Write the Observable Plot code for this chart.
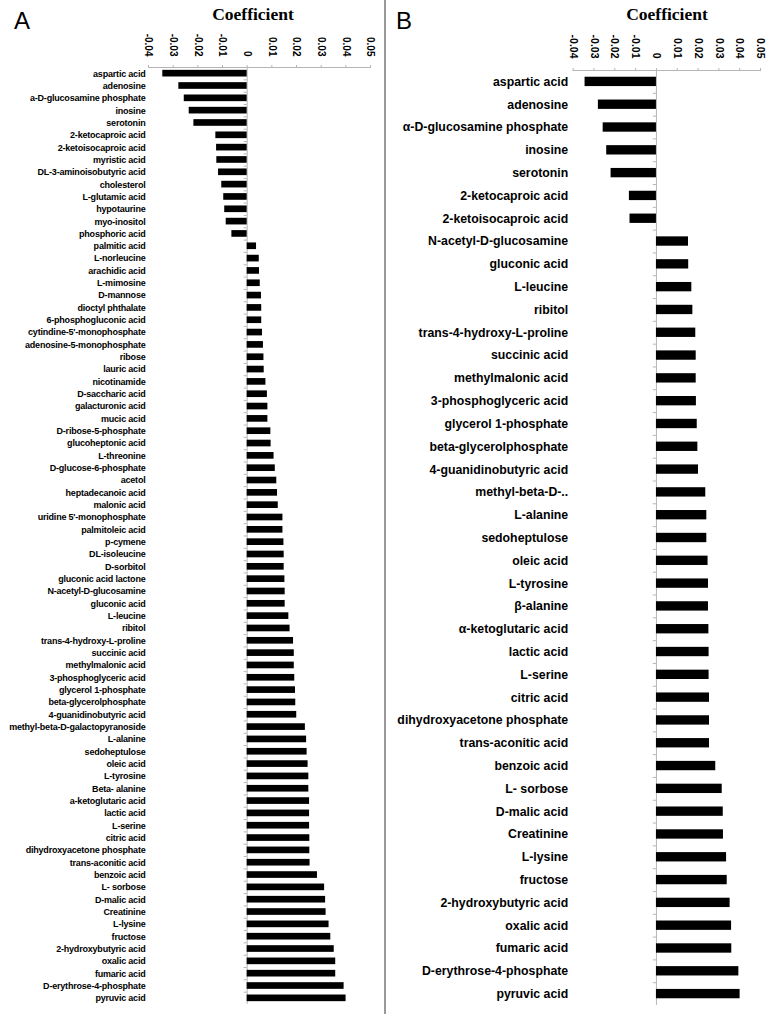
<!DOCTYPE html>
<html>
<head>
<meta charset="utf-8">
<script src="https://cdn.jsdelivr.net/npm/d3@7"></script>
<script src="https://cdn.jsdelivr.net/npm/@observablehq/plot@0.6"></script>
<style>
  html, body { margin: 0; padding: 0; background: #fff; }
  #wrap { position: relative; width: 774px; height: 1014px; overflow: hidden; background: #fff; }
  .panel { position: absolute; top: 0; }
  .letter { position: absolute; font-family: "Liberation Sans", Arial, sans-serif; font-size: 24px; line-height: 1; }
  .ctitle { position: absolute; font-family: "Liberation Serif", "Times New Roman", serif; font-weight: bold; font-size: 17.5px; line-height: 1; transform: translateX(-50%); white-space: nowrap; }
  #divider { position: absolute; left: 384px; top: 0; width: 1.5px; height: 1014px; background: #9a9a9a; }
  #panelA g[aria-label="y-axis tick label"] text { letter-spacing: -0.2px; }
</style>
</head>
<body>
<div id="wrap">
  <div id="panelA" class="panel" style="left:0"></div>
  <div id="panelB" class="panel" style="left:385px"></div>
  <div id="divider"></div>
  <div class="letter" style="left:14px; top:9px">A</div>
  <div class="letter" style="left:396px; top:9px">B</div>
  <div class="ctitle" style="left:253px; top:6px">Coefficient</div>
  <div class="ctitle" style="left:667px; top:6px">Coefficient</div>
</div>
<script>
// ---------- Data ----------
const tickValues = [-0.04, -0.03, -0.02, -0.01, 0, 0.01, 0.02, 0.03, 0.04, 0.05];

const categoriesA = [
  "aspartic acid", "adenosine", "a-D-glucosamine phosphate", "inosine", "serotonin",
  "2-ketocaproic acid", "2-ketoisocaproic acid", "myristic acid", "DL-3-aminoisobutyric acid", "cholesterol",
  "L-glutamic acid", "hypotaurine", "myo-inositol", "phosphoric acid", "palmitic acid",
  "L-norleucine", "arachidic acid", "L-mimosine", "D-mannose", "dioctyl phthalate",
  "6-phosphogluconic acid", "cytindine-5'-monophosphate", "adenosine-5-monophosphate", "ribose", "lauric acid",
  "nicotinamide", "D-saccharic acid", "galacturonic acid", "mucic acid", "D-ribose-5-phosphate",
  "glucoheptonic acid", "L-threonine", "D-glucose-6-phosphate", "acetol", "heptadecanoic acid",
  "malonic acid", "uridine 5'-monophosphate", "palmitoleic acid", "p-cymene", "DL-isoleucine",
  "D-sorbitol", "gluconic acid lactone", "N-acetyl-D-glucosamine", "gluconic acid", "L-leucine",
  "ribitol", "trans-4-hydroxy-L-proline", "succinic acid", "methylmalonic acid", "3-phosphoglyceric acid",
  "glycerol 1-phosphate", "beta-glycerolphosphate", "4-guanidinobutyric acid", "methyl-beta-D-galactopyranoside", "L-alanine",
  "sedoheptulose", "oleic acid", "L-tyrosine", "Beta- alanine", "a-ketoglutaric acid",
  "lactic acid", "L-serine", "citric acid", "dihydroxyacetone phosphate", "trans-aconitic acid",
  "benzoic acid", "L- sorbose", "D-malic acid", "Creatinine", "L-lysine",
  "fructose", "2-hydroxybutyric acid", "oxalic acid", "fumaric acid", "D-erythrose-4-phosphate",
  "pyruvic acid"
];
const valuesA = [
  -0.0342, -0.0277, -0.0255, -0.0235, -0.0216,
  -0.0127, -0.0124, -0.0123, -0.0116, -0.0103,
  -0.0095, -0.0091, -0.0085, -0.0062, 0.0038,
  0.0049, 0.0050, 0.0053, 0.0058, 0.0059,
  0.0059, 0.0062, 0.0066, 0.0068, 0.0069,
  0.0076, 0.0082, 0.0084, 0.0084, 0.0096,
  0.0097, 0.0109, 0.0114, 0.0120, 0.0123,
  0.0126, 0.0145, 0.0145, 0.0149, 0.0150,
  0.0150, 0.0153, 0.0154, 0.0154, 0.0169,
  0.0174, 0.0188, 0.0191, 0.0191, 0.0193,
  0.0196, 0.0197, 0.0201, 0.0236, 0.0241,
  0.0243, 0.0247, 0.0250, 0.0250, 0.0253,
  0.0253, 0.0253, 0.0254, 0.0254, 0.0255,
  0.0285, 0.0314, 0.0318, 0.0320, 0.0332,
  0.0339, 0.0353, 0.0359, 0.0359, 0.0393,
  0.0401
];

const categoriesB = [
  "aspartic acid", "adenosine", "α-D-glucosamine phosphate", "inosine", "serotonin",
  "2-ketocaproic acid", "2-ketoisocaproic acid", "N-acetyl-D-glucosamine", "gluconic acid", "L-leucine",
  "ribitol", "trans-4-hydroxy-L-proline", "succinic acid", "methylmalonic acid", "3-phosphoglyceric acid",
  "glycerol 1-phosphate", "beta-glycerolphosphate", "4-guanidinobutyric acid", "methyl-beta-D-..", "L-alanine",
  "sedoheptulose", "oleic acid", "L-tyrosine", "β-alanine", "α-ketoglutaric acid",
  "lactic acid", "L-serine", "citric acid", "dihydroxyacetone phosphate", "trans-aconitic acid",
  "benzoic acid", "L- sorbose", "D-malic acid", "Creatinine", "L-lysine",
  "fructose", "2-hydroxybutyric acid", "oxalic acid", "fumaric acid", "D-erythrose-4-phosphate",
  "pyruvic acid"
];
const valuesB = [
  -0.0343, -0.0279, -0.0256, -0.0239, -0.0218,
  -0.0130, -0.0127, 0.0154, 0.0155, 0.0170,
  0.0175, 0.0189, 0.0191, 0.0191, 0.0192,
  0.0196, 0.0199, 0.0202, 0.0237, 0.0242,
  0.0242, 0.0248, 0.0250, 0.0250, 0.0252,
  0.0253, 0.0253, 0.0255, 0.0255, 0.0255,
  0.0285, 0.0316, 0.0321, 0.0322, 0.0337,
  0.0340, 0.0354, 0.0361, 0.0362, 0.0396,
  0.0402
];

const dataA = categoriesA.map((name, i) => ({name, value: valuesA[i]}));
const dataB = categoriesB.map((name, i) => ({name, value: valuesB[i]}));

const fmt = d => d === 0 ? "0" : d.toFixed(2);

function panel(data, cats, cfg) {
  const step = (cfg.height - cfg.marginTop - cfg.marginBottom) / cats.length;
  return Plot.plot({
    width: cfg.width,
    height: cfg.height,
    marginTop: cfg.marginTop,
    marginBottom: cfg.marginBottom,
    marginLeft: cfg.marginLeft,
    marginRight: cfg.marginRight,
    style: {background: "transparent", fontFamily: "'Liberation Sans', Arial, sans-serif", overflow: "visible"},
    x: {domain: [-0.04, 0.05], axis: null},
    y: {domain: cats, paddingInner: cfg.pad, paddingOuter: cfg.pad / 2, round: false, axis: null},
    marks: [
      Plot.frame({anchor: "top", stroke: "#b5b5b5"}),
      Plot.axisX({
        anchor: "top", ticks: tickValues, tickFormat: fmt, tickRotate: 90,
        tickSize: 3, tickPadding: cfg.tickPad, stroke: "#b5b5b5", fill: "#000",
        fontSize: cfg.tickFont, fontWeight: "bold", label: null
      }),
      Plot.ruleX([0], {stroke: "#b5b5b5"}),
      Plot.ruleY(cats, {y: d => d, x1: cfg.minorLen, x2: 0, dy: -step / 2, stroke: "#b5b5b5"}),
      Plot.barX(data, {y: "name", x: "value", fill: "#000"}),
      Plot.axisY({
        anchor: "left", tickSize: 0, tickPadding: cfg.labelPad,
        fontSize: cfg.labelFont, fontWeight: "bold", fontFamily: cfg.labelFamily,
        fill: "#000", label: null
      })
    ]
  });
}

document.getElementById("panelA").append(panel(dataA, categoriesA, {
  width: 385, height: 1014, marginTop: 67, marginBottom: 10, marginLeft: 148, marginRight: 15,
  pad: 0.46, tickPad: 8, tickFont: 10, labelPad: 3, labelFont: 9,
  labelFamily: "'Liberation Sans', Arial, sans-serif",
  minorLen: -0.0012
}));

document.getElementById("panelB").append(panel(dataB, categoriesB, {
  width: 389, height: 1014, marginTop: 70, marginBottom: 9, marginLeft: 187.7, marginRight: 14,
  pad: 0.59, tickPad: 9, tickFont: 10.5, labelPad: 5, labelFont: 12.3,
  labelFamily: "'Liberation Sans', Arial, sans-serif",
  minorLen: -0.0015
}));
</script>
</body>
</html>
